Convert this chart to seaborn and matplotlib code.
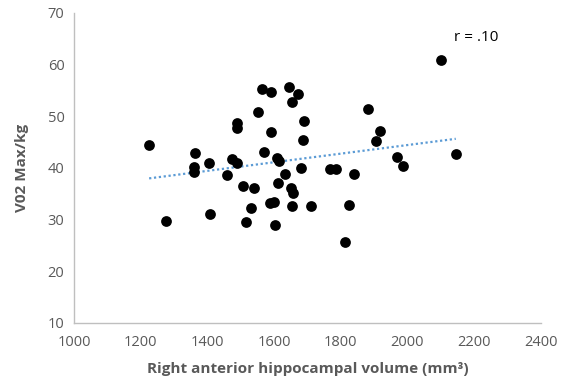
import matplotlib
matplotlib.use("Agg")
import matplotlib.pyplot as plt
import seaborn as sns
import pandas as pd
import numpy as np

sns.set_style("white")
plt.rcParams['font.family'] = ['Open Sans', 'DejaVu Sans']

# values
volume = [1225, 1276, 1360, 1360, 1363, 1405, 1408, 1459, 1474, 1488,
          1488, 1488, 1507, 1516, 1531, 1540, 1552, 1563, 1570, 1588,
          1590, 1590, 1600, 1603, 1608, 1614, 1612, 1632, 1645, 1650,
          1653, 1656, 1653, 1671, 1680, 1686, 1689, 1710, 1767, 1785,
          1812, 1824, 1839, 1881, 1905, 1917, 1968, 1987, 2100, 2145]
vo2 = [44.5, 29.8, 40.2, 39.2, 42.9, 41.0, 31.1, 38.7, 41.8, 41.0,
       48.7, 47.8, 36.5, 29.6, 32.3, 36.1, 50.9, 55.3, 43.1, 33.2,
       54.7, 47.0, 33.4, 29.0, 42.0, 41.4, 37.1, 38.9, 55.7, 36.1,
       52.8, 35.2, 32.7, 54.3, 40.0, 45.4, 49.1, 32.7, 39.8, 39.8,
       25.7, 32.9, 38.9, 51.4, 45.2, 47.2, 42.1, 40.4, 60.9, 42.7]
df = pd.DataFrame({"volume": volume, "vo2": vo2})

fig, ax = plt.subplots(figsize=(5.79, 3.90), dpi=100)
fig.subplots_adjust(left=0.128, right=0.934, top=0.967, bottom=0.172)

sns.regplot(data=df, x="volume", y="vo2", scatter=False, ci=None, ax=ax,
            line_kws=dict(color="#5B9BD5", lw=1.6, ls=(0, (1, 1.2))))
sns.scatterplot(data=df, x="volume", y="vo2", color="black", s=60,
                edgecolor="black", linewidth=0, ax=ax, zorder=3)

ax.set_xlim(1000, 2400)
ax.set_ylim(10, 70)
ax.set_xticks(np.arange(1000, 2401, 200))
ax.set_yticks(np.arange(10, 71, 10))
ax.tick_params(axis="both", length=0, labelsize=10.5, labelcolor="#595959")
ax.tick_params(axis="x", pad=9)
ax.tick_params(axis="y", pad=7)

for side in ["top", "right"]:
    ax.spines[side].set_visible(False)
for side in ["left", "bottom"]:
    ax.spines[side].set_color("#BFBFBF")
    ax.spines[side].set_linewidth(1)

ax.set_xlabel("Right anterior hippocampal volume (mm³)", fontsize=11,
              fontweight="bold", color="#595959", labelpad=8)
ax.set_ylabel("V02 Max/kg", fontsize=11, fontweight="bold", color="#595959",
              labelpad=13)

ax.text(2140, 65.2, "r = .10", fontsize=11, color="black", va="center")

fig.savefig("out.png", dpi=100)
